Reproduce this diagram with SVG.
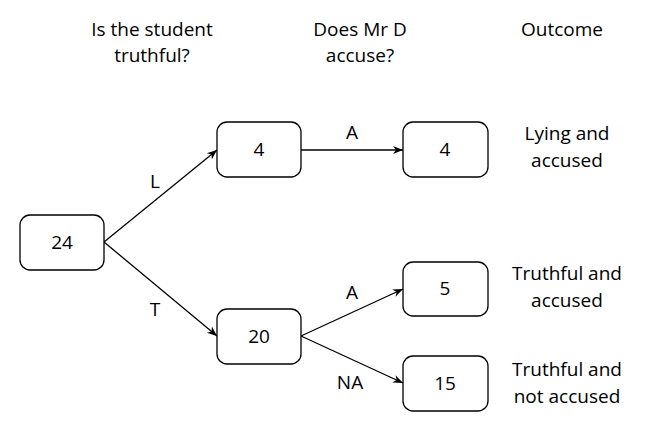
<svg xmlns="http://www.w3.org/2000/svg" width="648" height="432" viewBox="0 0 648 432">
<style>
text{font-family:"Open Sans","DejaVu Sans",sans-serif;font-size:19px;fill:#000;text-anchor:middle}
.b{fill:#fff;stroke:#000;stroke-width:1.3}
.c{stroke:#000;stroke-width:1.3;fill:none;marker-end:url(#ah)}
</style>
<defs><marker id="ah" viewBox="0 0 10 10" refX="10" refY="5" markerWidth="10" markerHeight="10" markerUnits="userSpaceOnUse" orient="auto"><path d="M0,1 L10,5 L0,9 L3,5 Z" fill="#000"/></marker></defs>
<rect width="648" height="432" fill="#fff"/>
<text x="152" y="36">Is the student</text><text x="152" y="62">truthful?</text>
<text x="360" y="36">Does Mr D</text><text x="360" y="62">accuse?</text>
<text x="562" y="36">Outcome</text>
<g id="connectors">
<path class="c" d="M104,242 L217,150"/>
<path class="c" d="M104,242 L217,336"/>
<path class="c" d="M301,150 L403,150"/>
<path class="c" d="M301,336 L403,289"/>
<path class="c" d="M301,336 L403,383"/>
<text x="155" y="188">L</text><text x="155" y="316">T</text>
<text x="352" y="139">A</text><text x="352" y="299">A</text><text x="350" y="389">NA</text>
</g>
<g id="n24"><rect class="b" x="20" y="215" width="84" height="55" rx="10"/><text x="62" y="249">24</text></g>
<g id="n4a"><rect class="b" x="217" y="122" width="84" height="55" rx="10"/><text x="259" y="156">4</text></g>
<g id="n4b"><rect class="b" x="403" y="122" width="85" height="55" rx="10"/><text x="445" y="156">4</text></g>
<g id="n20"><rect class="b" x="217" y="309" width="84" height="55" rx="10"/><text x="259" y="343">20</text></g>
<g id="n5"><rect class="b" x="403" y="262" width="85" height="54" rx="10"/><text x="445" y="295">5</text></g>
<g id="n15"><rect class="b" x="403" y="356" width="85" height="55" rx="10"/><text x="445" y="390">15</text></g>
<text x="567" y="140">Lying and</text><text x="567" y="167">accused</text>
<text x="567" y="280">Truthful and</text><text x="567" y="307">accused</text>
<text x="567" y="376">Truthful and</text><text x="567" y="403">not accused</text>
</svg>
